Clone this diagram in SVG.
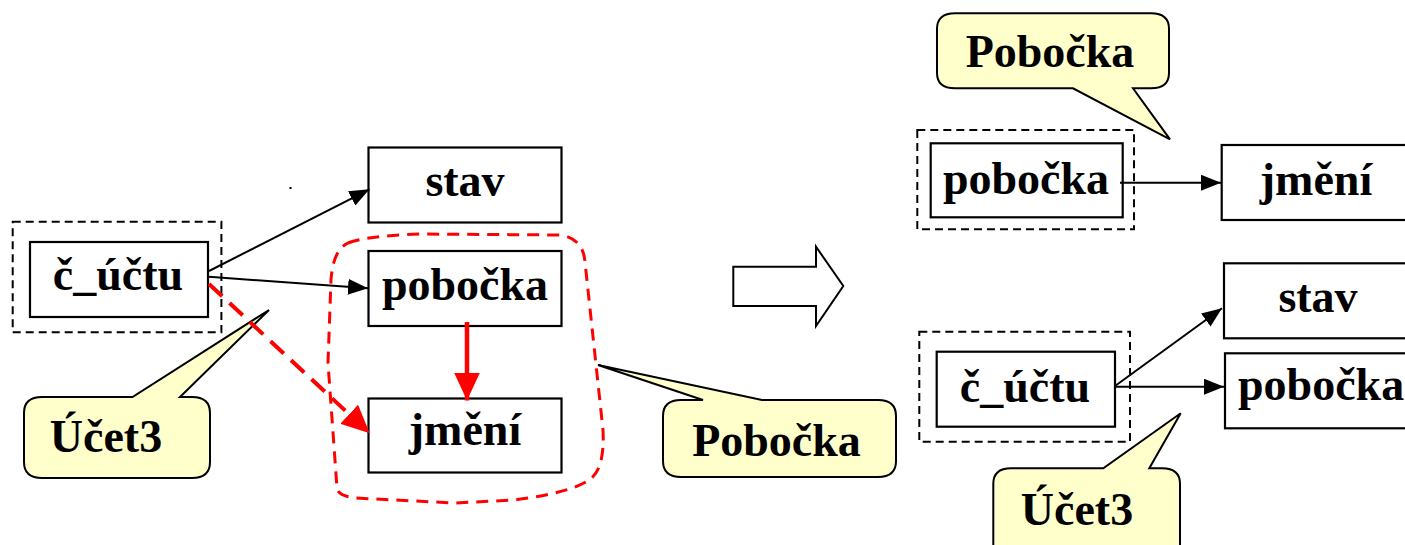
<svg xmlns="http://www.w3.org/2000/svg" width="1405" height="545" viewBox="0 0 1405 545">
<defs>
<style>
.box{fill:#fff;stroke:#000;stroke-width:2.2}
.grp{fill:none;stroke:#000;stroke-width:2;stroke-dasharray:8,5}
.call{fill:#FFFFCC;stroke:#000;stroke-width:2}
.t{font-family:"Liberation Serif","Times New Roman",serif;font-weight:bold;font-size:46px;fill:#000;text-anchor:middle}
.ln{fill:none;stroke:#000;stroke-width:2}
</style>
<marker id="ah" viewBox="0 0 20 16" refX="20" refY="8" markerWidth="20" markerHeight="16" markerUnits="userSpaceOnUse" orient="auto">
<path d="M0,0 L20,8 L0,16 Z" fill="#000"/>
</marker>
<marker id="rh" viewBox="0 0 28 26" refX="28" refY="13" markerWidth="28" markerHeight="26" markerUnits="userSpaceOnUse" orient="auto">
<path d="M0,0 L28,13 L0,26 Z" fill="#f00"/>
</marker>
</defs>
<rect x="0" y="0" width="1405" height="545" fill="#fff"/>

<g id="left-group-ucet3">
<rect class="grp" x="12.7" y="221.7" width="208.7" height="110.6"/>
</g>
<g id="left-group-pobocka">
<path d="M348,243 Q365,236 420,234 L560,235 Q583,238 585,262 L603,430 Q605,470 589,480 Q570,493 514,500 L455,503 L356,498 Q338,496 337,488 L328,363 L331,280 Q333,250 348,243 Z" fill="none" stroke="#f00" stroke-width="3" stroke-dasharray="12,8"/>
</g>
<g id="left-cuctu">
<rect class="box" x="30" y="242" width="178" height="75"/>
<text class="t" x="118" y="290">č_účtu</text>
</g>
<g id="left-stav">
<rect class="box" x="368.5" y="147.5" width="193" height="75"/>
<text class="t" x="465" y="196">stav</text>
</g>
<g id="left-pobocka">
<rect class="box" x="368.5" y="251" width="193" height="75"/>
<text class="t" x="465" y="300">pobočka</text>
</g>
<g id="left-jmeni">
<rect class="box" x="368.5" y="398.5" width="193" height="74"/>
<text class="t" x="465" y="445">jmění</text>
</g>
<g id="callout-ucet3-left">
<path class="call" d="M42,397 L132.5,397 L269,310 L180,397 L192,397 Q210,397 210,413 L210,462 Q210,478 192,478 L42,478 Q24,478 24,462 L24,413 Q24,397 42,397 Z"/>
<text class="t" x="106" y="452">Účet3</text>
</g>
<g id="callout-pobocka-left">
<path class="call" d="M681,400 L703,400 L598,365 L762,400 L878,400 Q896,400 896,416 L896,461 Q896,477 878,477 L681,477 Q663,477 663,461 L663,416 Q663,400 681,400 Z"/>
<text class="t" x="776.5" y="456">Pobočka</text>
</g>
<g id="transform-arrow">
<path d="M733.3,266.7 L816,266.7 L816,246.7 L843.3,286 L816,326 L816,306 L733.3,306 Z" fill="#fff" stroke="#000" stroke-width="2"/>
</g>
<g id="right-group-pobocka">
<rect class="grp" x="917.3" y="130" width="216.7" height="99.3"/>
</g>
<g id="right-pobocka">
<rect class="box" x="930.7" y="143.3" width="192" height="74"/>
<text class="t" x="1026" y="194">pobočka</text>
</g>
<g id="right-jmeni">
<rect class="box" x="1221.7" y="145" width="200" height="75"/>
<text class="t" x="1316" y="195">jmění</text>
</g>
<g id="callout-pobocka-top">
<path class="call" d="M955,13.3 L1151,13.3 Q1169,13.3 1169,29 L1169,73 Q1169,88.3 1151,88.3 L1133,88.3 L1170,139.3 L1073,88.3 L955,88.3 Q937,88.3 937,73 L937,29 Q937,13.3 955,13.3 Z"/>
<text class="t" x="1050" y="67">Pobočka</text>
</g>
<g id="right-group-ucet3">
<rect class="grp" x="919.3" y="331.7" width="210.7" height="110"/>
</g>
<g id="right-cuctu">
<rect class="box" x="936.7" y="351.7" width="178.3" height="75"/>
<text class="t" x="1025" y="402">č_účtu</text>
</g>
<g id="right-stav">
<rect class="box" x="1224" y="263.3" width="200" height="75"/>
<text class="t" x="1318" y="312">stav</text>
</g>
<g id="right-pobocka2">
<rect class="box" x="1225" y="353.3" width="200" height="75"/>
<text class="t" x="1238" y="400" style="text-anchor:start">pobočka</text>
</g>
<g id="callout-ucet3-right">
<path class="call" d="M1011,468.3 L1103.3,468.3 L1180.7,413.3 L1149.3,468.3 L1162,468.3 Q1180,468.3 1180,484 L1180,560 L993.3,560 L993.3,484 Q993.3,468.3 1011,468.3 Z"/>
<text class="t" x="1077" y="525">Účet3</text>
</g>

<g id="connectors">
<line class="ln" x1="209" y1="271" x2="369.5" y2="189.3" marker-end="url(#ah)"/>
<line class="ln" x1="209" y1="276.7" x2="368" y2="288.3" marker-end="url(#ah)"/>
<line x1="209" y1="284" x2="369.7" y2="433.3" stroke="#f00" stroke-width="4" stroke-dasharray="18,10" marker-end="url(#rh)"/>
<line x1="467" y1="322" x2="467" y2="400.5" stroke="#f00" stroke-width="4.5" marker-end="url(#rh)"/>
<line class="ln" x1="1120" y1="182.7" x2="1221" y2="182.7" marker-end="url(#ah)"/>
<line class="ln" x1="1115" y1="386" x2="1222" y2="308.3" marker-end="url(#ah)"/>
<line class="ln" x1="1115" y1="386.7" x2="1224" y2="386.7" marker-end="url(#ah)"/>
</g>
<rect x="289.5" y="187" width="2" height="2" fill="#000"/>
</svg>
